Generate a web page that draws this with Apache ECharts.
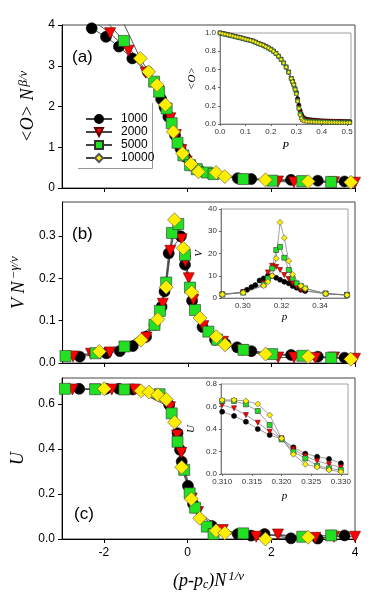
<!DOCTYPE html>
<html>
<head>
<meta charset="utf-8">
<script src="https://cdn.jsdelivr.net/npm/echarts@6/dist/echarts.min.js"></script>
<style>
html, body { margin: 0; padding: 0; background: #fff; }
#chart { width: 374px; height: 599px; }
</style>
</head>
<body>
<div id="chart"></div>
<script>
var sizes = ['1000', '2000', '5000', '10000'];

// panel (a): scaled order parameter
var aX1000 = [-2.29, -1.95, -1.64, -1.32, -0.95, -0.63, -0.55, -0.46, -0.3, -0.17, -0.06, 0.1, 0.3, 1.2, 1.52, 2.47, 3.11, 3.75];
var aY1000 = [3.92, 3.71, 3.47, 3.18, 2.85, 2.18, 1.98, 1.75, 1.3, 0.97, 0.77, 0.55, 0.42, 0.24, 0.22, 0.2, 0.18, 0.16];
var aX2000 = [-2.25, -1.85, -1.41, -1.0, -0.7, -0.52, -0.41, -0.28, -0.15, -0.02, 0.2, 0.5, 2.16, 2.54, 3.5, 4.0];
var aY2000 = [4.1, 3.8, 3.37, 2.83, 2.38, 1.95, 1.71, 1.3, 0.93, 0.65, 0.45, 0.35, 0.16, 0.14, 0.14, 0.13];
var aX5000 = [-1.95, -1.52, -0.8, -0.68, -0.5, -0.38, -0.24, -0.1, 0.06, 0.22, 0.46, 0.62, 1.33, 2.02, 2.74, 3.43];
var aY5000 = [4.1, 3.61, 2.61, 2.36, 1.95, 1.59, 1.11, 0.8, 0.56, 0.46, 0.38, 0.34, 0.22, 0.18, 0.17, 0.15];
var aX10000 = [-1.6, -1.13, -0.93, -0.73, -0.53, -0.34, -0.12, 0.08, 0.26, 0.68, 0.89, 1.86, 2.88, 3.9];
var aY10000 = [4.2, 3.18, 2.85, 2.53, 2.04, 1.38, 0.85, 0.59, 0.4, 0.38, 0.28, 0.2, 0.16, 0.14];

// inset (a): <O> against P
var iaP = [0, 0.01, 0.02, 0.03, 0.04, 0.05, 0.06, 0.07, 0.08, 0.09, 0.1, 0.11, 0.12, 0.13, 0.14, 0.15, 0.16, 0.17, 0.18, 0.19,
  0.2, 0.21, 0.22, 0.23, 0.24, 0.25, 0.26, 0.27, 0.28, 0.285, 0.29, 0.295, 0.3, 0.305, 0.31, 0.315, 0.32, 0.325, 0.33,
  0.34, 0.35, 0.36, 0.37, 0.38, 0.39, 0.4, 0.41, 0.42, 0.43, 0.44, 0.45, 0.46, 0.47, 0.48, 0.49, 0.5, 0.51];
var iaO1000 = [1.0, 0.993, 0.987, 0.98, 0.974, 0.967, 0.96, 0.953, 0.947, 0.94, 0.932, 0.925, 0.918, 0.91, 0.898, 0.885, 0.875, 0.865, 0.85, 0.835,
  0.82, 0.8, 0.775, 0.745, 0.71, 0.67, 0.625, 0.57, 0.5, 0.47, 0.43, 0.39, 0.35, 0.28, 0.21, 0.15, 0.11, 0.08, 0.065,
  0.055, 0.05, 0.046, 0.043, 0.04, 0.038, 0.036, 0.035, 0.034, 0.033, 0.032, 0.031, 0.03, 0.03, 0.029, 0.028, 0.028, 0.027];
var iaO2000 = [1.0, 0.993, 0.987, 0.98, 0.974, 0.967, 0.96, 0.953, 0.947, 0.94, 0.932, 0.925, 0.918, 0.91, 0.898, 0.885, 0.875, 0.865, 0.85, 0.835,
  0.82, 0.8, 0.775, 0.745, 0.71, 0.67, 0.625, 0.57, 0.5, 0.468, 0.43, 0.385, 0.34, 0.26, 0.18, 0.12, 0.085, 0.06, 0.05,
  0.042, 0.038, 0.035, 0.033, 0.031, 0.03, 0.029, 0.028, 0.027, 0.026, 0.025, 0.024, 0.024, 0.023, 0.022, 0.022, 0.021, 0.02];
var iaO5000 = [1.0, 0.993, 0.987, 0.98, 0.974, 0.967, 0.96, 0.953, 0.947, 0.94, 0.932, 0.925, 0.918, 0.91, 0.898, 0.885, 0.875, 0.865, 0.85, 0.835,
  0.82, 0.8, 0.775, 0.745, 0.71, 0.67, 0.625, 0.57, 0.5, 0.466, 0.43, 0.382, 0.335, 0.255, 0.175, 0.11, 0.07, 0.05, 0.04,
  0.033, 0.03, 0.028, 0.026, 0.025, 0.024, 0.023, 0.022, 0.021, 0.021, 0.02, 0.02, 0.019, 0.019, 0.018, 0.018, 0.017, 0.017];
var iaO10000 = [1.0, 0.993, 0.987, 0.98, 0.974, 0.967, 0.96, 0.953, 0.947, 0.94, 0.932, 0.925, 0.918, 0.91, 0.898, 0.885, 0.875, 0.865, 0.85, 0.835,
  0.82, 0.8, 0.775, 0.745, 0.71, 0.67, 0.625, 0.57, 0.5, 0.465, 0.43, 0.38, 0.33, 0.25, 0.17, 0.1, 0.06, 0.04, 0.03,
  0.026, 0.024, 0.022, 0.021, 0.02, 0.019, 0.019, 0.018, 0.018, 0.017, 0.017, 0.016, 0.016, 0.015, 0.015, 0.015, 0.014, 0.014];

// panel (b): scaled susceptibility
var bX1000 = [-2.59, -1.95, -1.63, -1.32, -1.0, -0.8, -0.63, -0.56, -0.46, -0.17, -0.07, 0.1, 0.35, 0.65, 0.9, 1.18, 1.52, 2.47, 3.11, 3.75];
var bY1000 = [0.015, 0.023, 0.028, 0.04, 0.062, 0.09, 0.133, 0.169, 0.259, 0.299, 0.232, 0.147, 0.085, 0.055, 0.045, 0.037, 0.028, 0.019, 0.015, 0.0125];
var bX2000 = [-2.75, -2.32, -1.87, -0.99, -0.6, -0.42, -0.28, -0.15, -0.06, 0.02, 0.13, 0.37, 0.84, 1.3, 2.16, 2.54, 3.05, 3.5, 4.0];
var bY2000 = [0.0155, 0.022, 0.025, 0.06, 0.14, 0.265, 0.325, 0.292, 0.24, 0.2, 0.149, 0.087, 0.05, 0.03, 0.013, 0.013, 0.012, 0.013, 0.01];
var bX5000 = [-2.93, -2.21, -1.52, -0.8, -0.67, -0.52, -0.38, -0.23, -0.07, 0.05, 0.17, 0.49, 0.7, 1.33, 2.02, 2.74, 3.43];
var bY5000 = [0.0165, 0.023, 0.039, 0.09, 0.123, 0.19, 0.307, 0.328, 0.255, 0.178, 0.125, 0.074, 0.055, 0.031, 0.021, 0.017, 0.0125];
var bX10000 = [-2.12, -1.12, -0.72, -0.52, -0.32, -0.11, 0.09, 0.29, 0.68, 0.89, 1.86, 2.88, 3.9];
var bY10000 = [0.027, 0.054, 0.103, 0.179, 0.338, 0.271, 0.167, 0.106, 0.062, 0.043, 0.021, 0.015, 0.009];

// inset (b): V against p
var ibP1000 = [0.2894, 0.3002, 0.3022, 0.3045, 0.3065, 0.3087, 0.3108, 0.313, 0.3152, 0.3173, 0.3193, 0.3215, 0.3238, 0.3258, 0.3279, 0.3301, 0.3323, 0.3429, 0.354];
var ibV1000 = [1.6, 2.8, 3.7, 4.9, 5.8, 7.9, 8.8, 10, 9.9, 9.1, 8.2, 7.3, 6.6, 5.4, 4.6, 3.7, 3.1, 1.9, 1.3];
var ibP2000 = [0.2894, 0.3002, 0.3108, 0.313, 0.3152, 0.3173, 0.3193, 0.3215, 0.3238, 0.3258, 0.3279, 0.3301, 0.3323, 0.3429, 0.354];
var ibV2000 = [1.6, 2.6, 6.6, 11.5, 14.5, 14, 12.6, 10.3, 8.5, 6.6, 5.1, 3.6, 3.3, 2.0, 1.4];
var ibP5000 = [0.2894, 0.3002, 0.3108, 0.313, 0.3152, 0.3173, 0.3193, 0.3215, 0.3238, 0.3258, 0.3279, 0.3301, 0.3323, 0.3429, 0.354];
var ibV5000 = [1.6, 2.4, 6, 8.8, 13.3, 21.6, 23, 18.1, 12.6, 8.8, 6.6, 5.4, 4.3, 2.0, 1.4];
var ibP10000 = [0.2894, 0.3002, 0.3108, 0.313, 0.3152, 0.3173, 0.3193, 0.3215, 0.3238, 0.3258, 0.3301, 0.3323, 0.3429, 0.354];
var ibV10000 = [1.6, 2.4, 5.5, 7.3, 10, 17.8, 34, 27, 16.6, 10.6, 5.5, 4.3, 1.9, 1.3];

// panel (c): Binder cumulant
var cX1000 = [-2.59, -1.95, -1.64, -1.31, -0.44, -0.24, -0.18, -0.14, 0.01, 0.13, 0.58, 1.2, 1.52, 1.84, 2.47, 3.11, 3.75];
var cY1000 = [0.667, 0.667, 0.667, 0.664, 0.596, 0.47, 0.396, 0.344, 0.236, 0.156, 0.058, 0.022, 0.015, 0.022, 0.003, 0.002, 0.016];
var cX2000 = [-2.75, -2.21, -1.81, -1.27, -0.42, -0.25, -0.15, 0.1, 0.25, 0.84, 1.64, 2.16, 3.05, 3.5, 4.0];
var cY2000 = [0.664, 0.664, 0.664, 0.664, 0.585, 0.46, 0.383, 0.18, 0.12, 0.04, 0.01, 0.02, 0.005, 0.01, 0.01];
var cX5000 = [-2.93, -2.21, -1.51, -0.67, -0.38, -0.24, -0.08, 0.05, 0.18, 0.46, 0.62, 1.33, 2.74, 3.43];
var cY5000 = [0.667, 0.665, 0.664, 0.643, 0.558, 0.432, 0.307, 0.203, 0.139, 0.055, 0.022, 0.025, 0.01, 0.016];
var cX10000 = [-1.99, -1.11, -0.92, -0.71, -0.51, -0.31, -0.14, 0.09, 0.29, 0.68, 0.89, 1.86, 2.88];
var cY10000 = [0.667, 0.658, 0.652, 0.64, 0.62, 0.519, 0.319, 0.178, 0.092, 0.037, 0.027, 0.0, 0.008];

// inset (c): U against p
var icP = [0.310, 0.312, 0.314, 0.316, 0.318, 0.320, 0.322, 0.324, 0.326, 0.328, 0.330];
var icU1000 = [0.554, 0.516, 0.465, 0.40, 0.347, 0.311, 0.237, 0.181, 0.154, 0.134, 0.095];
var icU2000 = [0.613, 0.584, 0.524, 0.456, 0.376, 0.317, 0.219, 0.16, 0.115, 0.086, 0.06];
var icU5000 = [0.649, 0.649, 0.619, 0.56, 0.436, 0.308, 0.199, 0.139, 0.074, 0.05, 0.036];
var icU10000 = [0.658, 0.658, 0.649, 0.622, 0.524, 0.317, 0.175, 0.086, 0.062, 0.036, 0.02];

var mainTicks = [-2, 0, 2, 4];

function pairs(xs, ys) {
    var out = [];
    for (var i = 0; i < xs.length; i++) out.push([xs[i], ys[i]]);
    return out;
}

var marks = {
    '1000':  { symbol: 'circle',   rotate: 0,   color: '#000000', border: '#000', big: 11, small: 5 },
    '2000':  { symbol: 'triangle', rotate: 180, color: '#ff0000', border: '#600', big: 11, small: 5 },
    '5000':  { symbol: 'rect',     rotate: 0,   color: '#22e022', border: '#333', big: 11, small: 5 },
    '10000': { symbol: 'diamond',  rotate: 0,   color: '#ffee00', border: '#555', big: 14, small: 6 }
};

function makeSeries(name, data, idx, inset, symSize) {
    var m = marks[name];
    return {
        name: name,
        type: 'line',
        xAxisIndex: idx,
        yAxisIndex: idx,
        data: data,
        symbol: m.symbol,
        symbolRotate: m.rotate,
        symbolSize: symSize || (inset ? m.small : m.big),
        showAllSymbol: true,
        clip: true,
        z: inset ? 5 : 3,
        lineStyle: { color: inset ? '#777' : '#444', width: inset ? 0.7 : 0.9 },
        itemStyle: { color: m.color, borderColor: m.border, borderWidth: 0.6 },
        emphasis: { disabled: true }
    };
}

var sansFont = 'Liberation Sans';
var serifFont = 'Liberation Serif';

var nameRich = {
    t: { fontFamily: serifFont, fontStyle: 'italic', fontSize: 18, color: '#000' },
    s: { fontFamily: serifFont, fontStyle: 'italic', fontSize: 13, color: '#000', padding: [0, 0, 9, 2] },
    b: { fontFamily: serifFont, fontStyle: 'italic', fontSize: 12, color: '#000', padding: [8, 0, 0, 0] }
};
var insetRich = {
    t: { fontFamily: serifFont, fontStyle: 'italic', fontSize: 11, color: '#000' }
};

function mainX(grid, showLabels) {
    return {
        type: 'value', gridIndex: grid, min: -3, max: 4,
        splitLine: { show: false },
        axisLine: { onZero: false, lineStyle: { color: '#000', width: 1 } },
        axisTick: { length: 4, customValues: mainTicks, lineStyle: { color: '#000' } },
        axisLabel: { show: showLabels, customValues: mainTicks, fontFamily: sansFont, fontSize: 12, color: '#000', margin: 8 }
    };
}

function mainY(grid, max, ticks, digits, name, gap) {
    return {
        type: 'value', gridIndex: grid, min: 0, max: max,
        splitLine: { show: false },
        axisLine: { show: true, onZero: false, lineStyle: { color: '#000', width: 1 } },
        axisTick: { show: true, length: 4, customValues: ticks, lineStyle: { color: '#000' } },
        axisLabel: {
            customValues: ticks, fontFamily: sansFont, fontSize: 12, color: '#000', margin: 7,
            formatter: function (v) { return v.toFixed(digits); }
        },
        name: name, nameLocation: 'middle', nameGap: gap, nameRotate: 90,
        nameTextStyle: { rich: nameRich }
    };
}

function insetAxis(grid, min, max, ticks, digits, name, gap, rotate) {
    return {
        type: 'value', gridIndex: grid, min: min, max: max,
        splitLine: { show: false },
        axisLine: { show: true, onZero: false, lineStyle: { color: '#666', width: 0.8 } },
        axisTick: { show: true, length: 2, customValues: ticks, lineStyle: { color: '#666' } },
        axisLabel: {
            customValues: ticks, fontFamily: sansFont, fontSize: 8, color: '#333', margin: 4,
            formatter: function (v) { return v.toFixed(digits); }
        },
        name: name, nameLocation: 'middle', nameGap: gap, nameRotate: rotate,
        nameTextStyle: { rich: insetRich }
    };
}

var series = [];
var mainSets = [
    [aX1000, aY1000, aX2000, aY2000, aX5000, aY5000, aX10000, aY10000],
    [bX1000, bY1000, bX2000, bY2000, bX5000, bY5000, bX10000, bY10000],
    [cX1000, cY1000, cX2000, cY2000, cX5000, cY5000, cX10000, cY10000]
];
var insetSets = [
    [iaP, iaO1000, iaP, iaO2000, iaP, iaO5000, iaP, iaO10000],
    [ibP1000, ibV1000, ibP2000, ibV2000, ibP5000, ibV5000, ibP10000, ibV10000],
    [icP, icU1000, icP, icU2000, icP, icU5000, icP, icU10000]
];
for (var p = 0; p < 3; p++) {
    for (var k = 0; k < 4; k++) {
        series.push(makeSeries(sizes[k], pairs(mainSets[p][2 * k], mainSets[p][2 * k + 1]), 2 * p, false));
    }
    for (var k2 = 0; k2 < 4; k2++) {
        series.push(makeSeries(sizes[k2], pairs(insetSets[p][2 * k2], insetSets[p][2 * k2 + 1]), 2 * p + 1, true, p === 0 ? 4 : null));
    }
}

var dom = document.getElementById('chart');
var chart = echarts.init(dom, null, { renderer: 'canvas' });

var xc = mainX(4, true);
xc.name = '{t|(p-p}{b|c}{t|)N}{s|1/ν}';
xc.nameLocation = 'middle';
xc.nameGap = 31;
xc.nameTextStyle = { rich: nameRich };

var option = {
    animation: false,
    backgroundColor: '#fff',
    grid: [
        { left: 62, top: 25, width: 293, height: 163, show: true, borderColor: '#444', borderWidth: 1 },
        { left: 220, top: 33, width: 131, height: 91, show: true, borderColor: '#888', borderWidth: 0.8 },
        { left: 62, top: 202, width: 293, height: 161, show: true, borderColor: '#444', borderWidth: 1 },
        { left: 221, top: 209, width: 127, height: 89, show: true, borderColor: '#888', borderWidth: 0.8 },
        { left: 62, top: 378, width: 293, height: 161, show: true, borderColor: '#444', borderWidth: 1 },
        { left: 221, top: 384, width: 127, height: 90, show: true, borderColor: '#888', borderWidth: 0.8 }
    ],
    xAxis: [
        mainX(0, false),
        insetAxis(1, 0, 0.515, [0, 0.1, 0.2, 0.3, 0.4, 0.5], 1, '{t|P}', 17, 0),
        mainX(2, false),
        insetAxis(3, 0.2887, 0.3545, [0.30, 0.32, 0.34], 2, '{t|p}', 14, 0),
        xc,
        insetAxis(5, 0.3098, 0.3312, [0.310, 0.315, 0.320, 0.325, 0.330], 3, '{t|p}', 17, 0)
    ],
    yAxis: [
        mainY(0, 4, [0, 1, 2, 3, 4], 0, '{t|<O> N}{s|β/ν}', 20),
        insetAxis(1, 0, 1, [0, 0.2, 0.4, 0.6, 0.8, 1.0], 1, '{t|<O>}', 22, 90),
        mainY(2, 0.38, [0, 0.1, 0.2, 0.3], 1, '{t|V N}{s|−γ/ν}', 24),
        insetAxis(3, 0, 40, [0, 10, 20, 30, 40], 0, '{t|V}', 13, 90),
        mainY(4, 0.715, [0, 0.2, 0.4, 0.6], 1, '{t|U}', 33),
        insetAxis(5, 0, 0.8, [0, 0.2, 0.4, 0.6, 0.8], 1, '{t|U}', 24, 90)
    ],
    legend: {
        data: sizes,
        orient: 'vertical',
        left: 80, top: 108,
        itemWidth: 26, itemHeight: 10, itemGap: 1,
        selectedMode: false,
        textStyle: { fontFamily: sansFont, fontSize: 12, color: '#000', padding: [0, 0, 0, 4] }
    },
    graphic: [
        { type: 'text', left: 72, top: 49, style: { text: '(a)', font: '17px "Liberation Sans"', fill: '#000' } },
        { type: 'text', left: 72, top: 226, style: { text: '(b)', font: '17px "Liberation Sans"', fill: '#000' } },
        { type: 'text', left: 74, top: 506, style: { text: '(c)', font: '17px "Liberation Sans"', fill: '#000' } },
        { type: 'polyline', shape: { points: [[152.5, 103], [152.5, 168.5], [78, 168.5]] }, style: { stroke: '#999', fill: null, lineWidth: 1 } }
    ],
    series: series
};

if (option && typeof option === 'object') {
    chart.setOption(option, false);
}
window.onresize = chart.resize;
</script>
</body>
</html>
